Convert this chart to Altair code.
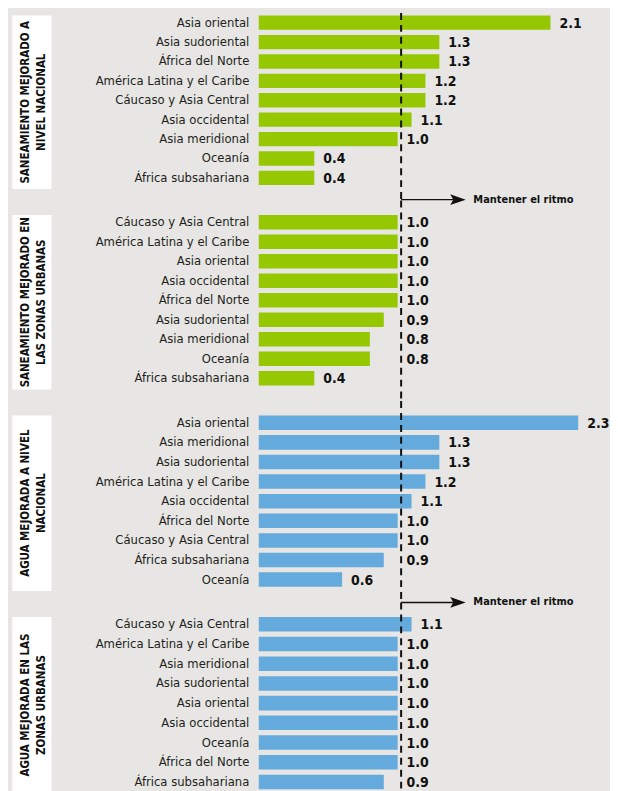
import altair as alt
import pandas as pd

# ---------------- data ----------------
p1_cats = ["Asia oriental", "Asia sudoriental", "África del Norte", "América Latina y el Caribe",
           "Cáucaso y Asia Central", "Asia occidental", "Asia meridional", "Oceanía", "África subsahariana"]
p1_vals = [2.1, 1.3, 1.3, 1.2, 1.2, 1.1, 1.0, 0.4, 0.4]

p2_cats = ["Cáucaso y Asia Central", "América Latina y el Caribe", "Asia oriental", "Asia occidental",
           "África del Norte", "Asia sudoriental", "Asia meridional", "Oceanía", "África subsahariana"]
p2_vals = [1.0, 1.0, 1.0, 1.0, 1.0, 0.9, 0.8, 0.8, 0.4]

p3_cats = ["Asia oriental", "Asia meridional", "Asia sudoriental", "América Latina y el Caribe",
           "Asia occidental", "África del Norte", "Cáucaso y Asia Central", "África subsahariana", "Oceanía"]
p3_vals = [2.3, 1.3, 1.3, 1.2, 1.1, 1.0, 1.0, 0.9, 0.6]

p4_cats = ["Cáucaso y Asia Central", "América Latina y el Caribe", "Asia meridional", "Asia sudoriental",
           "Asia oriental", "Asia occidental", "Oceanía", "África del Norte", "África subsahariana"]
p4_vals = [1.1, 1.0, 1.0, 1.0, 1.0, 1.0, 1.0, 1.0, 0.9]

titles = [
    ["SANEAMIENTO MEJORADO A", "NIVEL NACIONAL"],
    ["SANEAMIENTO MEJORADO EN", "LAS ZONAS URBANAS"],
    ["AGUA MEJORADA A NIVEL", "NACIONAL"],
    ["AGUA MEJORADA EN LAS", "ZONAS URBANAS"],
]
annotation_text = "Mantener el ritmo"

GREEN = "#95c800"
BLUE = "#64aadc"
BG = "#e7e6e4"
FONT = "DejaVu Sans Condensed, Liberation Sans Narrow, sans-serif"

W = 349
X_MAX = 2.5
REF = 1.025          # dashed reference line
ARROW_END = 1.49
ANNOT_X = 1.545


def panel(cats, vals, title_lines, color, h, rule_top, arrow_y=None):
    df = pd.DataFrame({"region": cats, "valor": vals,
                       "etiqueta": [f"{v:.1f}" for v in vals]})
    xs = alt.Scale(domain=[0, X_MAX], nice=False, zero=True)
    ys = alt.Scale(domain=cats, paddingInner=0.26, paddingOuter=0.13)
    base = alt.Chart(df)
    bars = base.mark_bar(color=color).encode(
        x=alt.X("valor:Q", scale=xs, axis=None),
        y=alt.Y("region:N", scale=ys, sort=cats,
                axis=alt.Axis(title=None, domain=False, ticks=False, labelPadding=10,
                              labelFont=FONT, labelFontSize=13, labelColor="#231f20",
                              labelLimit=300)),
    )
    # labels of bars ending just before the dashed line are set just past it
    labels = base.transform_calculate(
        pos="datum.valor > 0.7 ? max(datum.valor, 1.0) : datum.valor"
    ).mark_text(align="left", baseline="middle", dx=9, dy=1, font=FONT,
                fontWeight="bold", fontSize=14, color="#111111").encode(
        x="pos:Q", y=alt.Y("region:N", sort=cats), text="etiqueta:N")

    one = alt.Chart(pd.DataFrame({"k": [0]}))
    rule = one.mark_rule(strokeDash=[7, 5], strokeWidth=2, color="#111111").encode(
        x=alt.datum(REF), y=alt.value(rule_top), y2=alt.value(h + 12))
    box = one.mark_rect(color="white").encode(
        x=alt.value(-247.7), x2=alt.value(-208.3), y=alt.value(2.5), y2=alt.value(h + 1.5))
    ttl = one.mark_text(angle=270, align="center", baseline="middle", font=FONT,
                        fontWeight="bold", fontSize=11.5, lineHeight=16, color="#111111",
                        text=title_lines).encode(x=alt.value(-234), y=alt.value(h / 2 + 2))
    layers = [box, ttl, bars, labels, rule]
    if arrow_y is not None:
        line = one.mark_rule(strokeWidth=1.4, color="#111111").encode(
            x=alt.datum(REF), x2=alt.datum(ARROW_END - 0.05), y=alt.value(arrow_y))
        head = one.mark_point(shape="M-2,-0.7 L0,0 L-2,0.7 L-1.6,0 Z", size=243, filled=True,
                              opacity=1, color="#111111").encode(
            x=alt.datum(ARROW_END), y=alt.value(arrow_y))
        txt = one.mark_text(align="left", baseline="middle", font=FONT, fontWeight="bold",
                            fontSize=11, color="#111111", text=annotation_text).encode(
            x=alt.datum(ANNOT_X), y=alt.value(arrow_y))
        layers += [line, head, txt]
    return alt.layer(*layers).properties(width=W, height=h)


chart = alt.vconcat(
    panel(p1_cats, p1_vals, titles[0], GREEN, 175.5, 0, arrow_y=187.6),
    panel(p2_cats, p2_vals, titles[1], GREEN, 176.4, -12),
    panel(p3_cats, p3_vals, titles[2], BLUE, 177.3, -12, arrow_y=190.4),
    panel(p4_cats, p4_vals, titles[3], BLUE, 178.2, -12),
    spacing=24.5,
).properties(
    bounds="flush",
    padding={"left": 4, "top": 2, "right": 0, "bottom": 0},
    background=BG,
).configure_view(strokeWidth=0)

chart.save("out.html", embed_options={"renderer": "svg", "actions": False})
